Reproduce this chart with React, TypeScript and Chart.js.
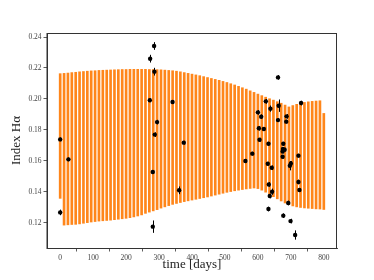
import React, { useEffect, useRef } from "react";
import { Chart, registerables } from "chart.js";

Chart.register(...registerables);

// Model stripes (orange oscillation): times, upper and lower extremes
const STRIPE_T = [0, 11.8, 23.5, 35.3, 47.1, 58.8, 70.6, 82.4, 94.1, 105.9, 117.6, 129.4, 141.2, 152.9, 164.7, 176.5, 188.2, 200, 211.8, 223.5, 235.3, 247.1, 258.8, 270.6, 282.4, 294.1, 305.9, 317.6, 329.4, 341.2, 352.9, 364.7, 376.5, 388.2, 400, 411.8, 423.5, 435.3, 447.1, 458.8, 470.6, 482.4, 494.1, 505.9, 517.6, 529.4, 541.2, 552.9, 564.7, 576.5, 588.2, 600, 611.8, 623.5, 635.3, 647.1, 658.8, 670.6, 682.4, 694.1, 705.9, 717.6, 729.4, 741.2, 752.9, 764.7, 776.5, 788.2, 800];
const STRIPE_HI = [0.2163, 0.2165, 0.2167, 0.2170, 0.2172, 0.2175, 0.2177, 0.2179, 0.2181, 0.2182, 0.2184, 0.2185, 0.2186, 0.2187, 0.2188, 0.2189, 0.2190, 0.2190, 0.2191, 0.2191, 0.2191, 0.2191, 0.2191, 0.2190, 0.2190, 0.2189, 0.2188, 0.2186, 0.2184, 0.2182, 0.2179, 0.2175, 0.2170, 0.2165, 0.2160, 0.2155, 0.2150, 0.2144, 0.2138, 0.2132, 0.2126, 0.2120, 0.2113, 0.2106, 0.2098, 0.2090, 0.2081, 0.2072, 0.2063, 0.2052, 0.2042, 0.2031, 0.2021, 0.2011, 0.2001, 0.1992, 0.1982, 0.1972, 0.1960, 0.1948, 0.1957, 0.1965, 0.1972, 0.1977, 0.1981, 0.1984, 0.1986, 0.1988, 0.1906];
const STRIPE_LO = [0.1357, 0.1184, 0.1186, 0.1188, 0.1189, 0.1192, 0.1196, 0.1200, 0.1204, 0.1207, 0.1210, 0.1212, 0.1214, 0.1216, 0.1219, 0.1222, 0.1225, 0.1228, 0.1232, 0.1237, 0.1243, 0.1250, 0.1260, 0.1268, 0.1276, 0.1284, 0.1294, 0.1302, 0.1310, 0.1318, 0.1324, 0.1330, 0.1336, 0.1341, 0.1346, 0.1351, 0.1356, 0.1361, 0.1366, 0.1372, 0.1378, 0.1384, 0.1390, 0.1396, 0.1401, 0.1406, 0.1410, 0.1414, 0.1418, 0.1421, 0.1424, 0.1420, 0.1410, 0.1397, 0.1383, 0.1368, 0.1354, 0.1340, 0.1327, 0.1316, 0.1308, 0.1302, 0.1298, 0.1295, 0.1293, 0.1291, 0.1289, 0.1288, 0.1285];

// Observations with error bars
const OBS_T = [0, 0, 25, 273, 285, 286, 272, 294, 287, 281, 281, 341, 361, 375, 562, 583, 600, 603, 605, 610, 618, 624, 630, 632, 633, 632, 636, 638, 642, 643, 661, 661, 663, 675, 675, 677, 676, 681, 677, 686, 687, 692, 697, 700, 699, 713, 723, 723, 726, 731];
const OBS_V = [0.1738, 0.1266, 0.1609, 0.2260, 0.2342, 0.2176, 0.1991, 0.1850, 0.1769, 0.1527, 0.1174, 0.1980, 0.1409, 0.1717, 0.1598, 0.1646, 0.1913, 0.1810, 0.1736, 0.1885, 0.1805, 0.1984, 0.1581, 0.1710, 0.1447, 0.1288, 0.1372, 0.1937, 0.1555, 0.1400, 0.2139, 0.1863, 0.1956, 0.1626, 0.1660, 0.1710, 0.1676, 0.1672, 0.1245, 0.1853, 0.1887, 0.1327, 0.1568, 0.1583, 0.1210, 0.1120, 0.1633, 0.1463, 0.1411, 0.1973];
const OBS_ERR = [0.0012, 0.0018, 0.0012, 0.0025, 0.0025, 0.0025, 0.0012, 0.0015, 0.0015, 0.0012, 0.0040, 0.0012, 0.0025, 0.0012, 0.0012, 0.0012, 0.0015, 0.0015, 0.0012, 0.0015, 0.0012, 0.0015, 0.0012, 0.0012, 0.0015, 0.0015, 0.0015, 0.0020, 0.0015, 0.0020, 0.0015, 0.0012, 0.0040, 0.0012, 0.0012, 0.0012, 0.0012, 0.0012, 0.0015, 0.0012, 0.0015, 0.0015, 0.0030, 0.0015, 0.0015, 0.0030, 0.0012, 0.0015, 0.0012, 0.0015];

const X_TICKS = [0, 100, 200, 300, 400, 500, 600, 700, 800];
const Y_TICKS = [0.12, 0.14, 0.16, 0.18, 0.2, 0.22, 0.24];

const SERIF = "'Liberation Serif', 'DejaVu Serif', serif";

const frameAndErrors = {
  id: "frameAndErrors",
  afterDatasetsDraw(chart: any) {
    const { ctx, chartArea, scales } = chart;
    ctx.save();
    ctx.strokeStyle = "#000";
    ctx.lineWidth = 1;
    for (let i = 0; i < OBS_T.length; i++) {
      const px = Math.round(scales.x.getPixelForValue(OBS_T[i])) + 0.5;
      const y1 = scales.y.getPixelForValue(OBS_V[i] - OBS_ERR[i]);
      const y2 = scales.y.getPixelForValue(OBS_V[i] + OBS_ERR[i]);
      ctx.beginPath();
      ctx.moveTo(px, y1);
      ctx.lineTo(px, y2);
      ctx.stroke();
    }
    ctx.strokeStyle = "#333";
    ctx.lineWidth = 1;
    ctx.strokeRect(chartArea.left, chartArea.top + 0.5, chartArea.right - chartArea.left - 0.5, chartArea.bottom - chartArea.top);
    ctx.restore();
  },
};

export default function App() {
  const ref = useRef<HTMLCanvasElement | null>(null);
  useEffect(() => {
    document.body.style.margin = "0";
    if (!ref.current) return;
    const chart = new Chart(ref.current, {
      type: "scatter",
      data: {
        datasets: [
          {
            type: "bar",
            label: "model",
            data: STRIPE_T.map((t, i) => ({ x: t, y: [STRIPE_LO[i], STRIPE_HI[i]] })) as any,
            backgroundColor: "rgba(255,127,14,0.95)",
            borderWidth: 0,
            barThickness: 2,
            order: 2,
          } as any,
          {
            type: "scatter",
            label: "obs",
            data: OBS_T.map((t, i) => ({ x: t, y: OBS_V[i] })),
            backgroundColor: "#000",
            borderColor: "#000",
            pointRadius: 2.2,
            pointBorderWidth: 0,
            order: 1,
          },
        ],
      },
      options: {
        animation: false,
        responsive: true,
        maintainAspectRatio: false,
        layout: { padding: { left: 0, right: 37, top: 33, bottom: 0 } },
        plugins: { legend: { display: false }, tooltip: { enabled: false } },
        scales: {
          x: {
            type: "linear",
            min: -40,
            max: 840,
            offset: false,
            afterFit: (s: any) => { s.height = 32; },
            afterBuildTicks: (s: any) => { s.ticks = X_TICKS.map((v) => ({ value: v })); },
            ticks: { font: { family: SERIF, size: 7.5 }, color: "#444", padding: 2, maxRotation: 0, callback: (v: any) => String(v) },
            grid: { display: true, drawOnChartArea: false, drawTicks: true, tickLength: 3.5, color: "#333", lineWidth: 0.8 },
            border: { display: true, color: "#333", width: 1 },
            title: { display: true, text: "time [days]", font: { family: SERIF, size: 13, lineHeight: 1.2 }, color: "#222", padding: { top: 0, bottom: 7.2 } },
          },
          y: {
            type: "linear",
            min: 0.1036,
            max: 0.2426,
            afterFit: (s: any) => { s.width = 47; },
            afterBuildTicks: (s: any) => { s.ticks = Y_TICKS.map((v) => ({ value: v })); },
            ticks: { font: { family: SERIF, size: 7.5 }, color: "#444", padding: 2, callback: (v: any) => Number(v).toFixed(2) },
            grid: { display: true, drawOnChartArea: false, drawTicks: true, tickLength: 3.5, color: "#333", lineWidth: 0.8 },
            border: { display: true, color: "#333", width: 1 },
            title: { display: true, text: "Index Hα", font: { family: SERIF, size: 13, lineHeight: 1.2 }, color: "#222", padding: { top: 9.2, bottom: 0 } },
          },
        },
      },
      plugins: [frameAndErrors],
    });
    return () => chart.destroy();
  }, []);
  return (
    <div style={{ width: 374, height: 280, position: "relative" }}>
      <canvas ref={ref} />
    </div>
  );
}
